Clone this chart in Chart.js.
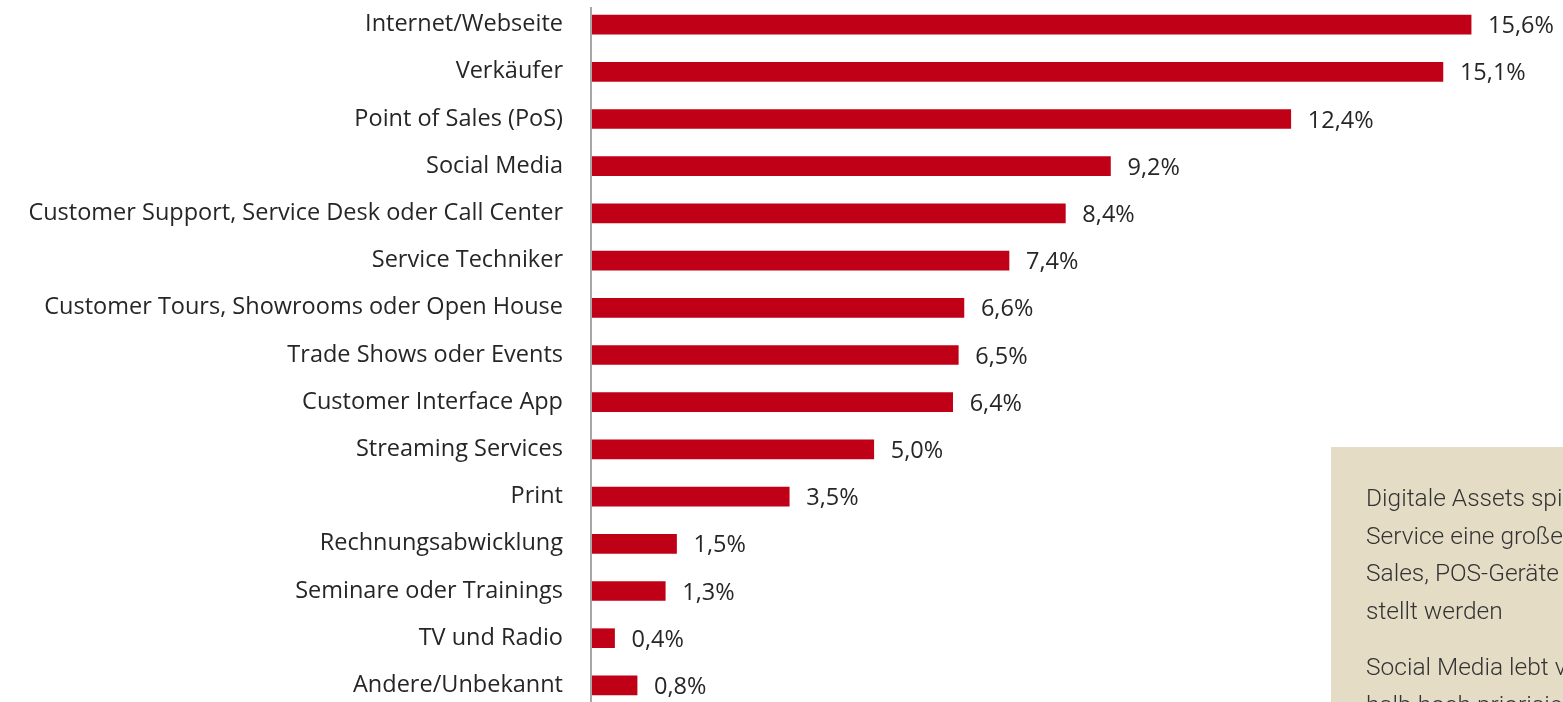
<!DOCTYPE html>
<html>
<head>
<meta charset="utf-8">
<script src="https://cdn.jsdelivr.net/npm/chart.js@4/dist/chart.umd.min.js"></script>
<style>
  html, body { margin: 0; padding: 0; background: #fff; overflow: hidden; width: 1563px; height: 702px; }
  #wrap { position: absolute; left: 0; top: 0; width: 1563px; height: 712px; }
  #note {
    position: absolute; left: 1331px; top: 447px; width: 420px; height: 300px;
    background: #e5dcc6; box-sizing: border-box; padding: 32px 0 0 35px;
    font-family: Roboto, sans-serif; font-weight: 300; font-size: 24.5px; line-height: 37.5px; color: #333;
    white-space: nowrap;
  }
  #note p { margin: 0 0 19px 0; }
</style>
</head>
<body>
<div id="wrap"><canvas id="bars"></canvas></div>
<div id="note">
  <p>Digitale Assets spielen für Sales und<br>Service eine große Rolle und müssen für<br>Sales, POS-Geräte und Service bereitge-<br>stellt werden</p>
  <p>Social Media lebt von Aktualität und ist des-<br>halb hoch priorisiert</p>
</div>
<script>
const categories = [
  "Internet/Webseite",
  "Verkäufer",
  "Point of Sales (PoS)",
  "Social Media",
  "Customer Support, Service Desk oder Call Center",
  "Service Techniker",
  "Customer Tours, Showrooms oder Open House",
  "Trade Shows oder Events",
  "Customer Interface App",
  "Streaming Services",
  "Print",
  "Rechnungsabwicklung",
  "Seminare oder Trainings",
  "TV und Radio",
  "Andere/Unbekannt"
];
const shares = [15.6, 15.1, 12.4, 9.2, 8.4, 7.4, 6.6, 6.5, 6.4, 5.0, 3.5, 1.5, 1.3, 0.4, 0.8];

const fmt = v => v.toFixed(1).replace(".", ",") + "%";

const valueLabels = {
  id: "valueLabels",
  afterDatasetsDraw(chart) {
    const ctx = chart.ctx;
    const meta = chart.getDatasetMeta(0);
    ctx.save();
    ctx.font = "23.5px 'Open Sans'";
    ctx.fillStyle = "#262626";
    ctx.textBaseline = "middle";
    ctx.textAlign = "left";
    meta.data.forEach((bar, i) => {
      ctx.fillText(fmt(shares[i]), bar.x + 17, bar.y + 2);
    });
    ctx.restore();
  }
};

// axis line starts a bit below the top, like the original
const axisLine = {
  id: "axisLine",
  afterDatasetsDraw(chart) {
    const ctx = chart.ctx;
    const area = chart.chartArea;
    ctx.save();
    ctx.strokeStyle = "#a6a6a6";
    ctx.lineWidth = 2;
    ctx.beginPath();
    ctx.moveTo(area.left - 1, 7);
    ctx.lineTo(area.left - 1, chart.height);
    ctx.stroke();
    ctx.restore();
  }
};

const canvas = document.getElementById("bars");
canvas.width = 1563;
canvas.height = 712;

new Chart(canvas, {
  type: "bar",
  data: {
    labels: categories,
    datasets: [{
      data: shares,
      backgroundColor: "#c00016",
      barThickness: 19
    }]
  },
  options: {
    indexAxis: "y",
    responsive: false,
    animation: false,
    layout: { padding: { top: 1, bottom: 3, left: 0, right: 13 } },
    plugins: { legend: { display: false }, tooltip: { enabled: false } },
    scales: {
      x: { display: false, min: 0, max: 17 },
      y: {
        grid: { display: false },
        border: { display: false },
        ticks: { color: "#262626", font: { family: "'Open Sans'", size: 23.5 }, padding: 21 },
        afterFit(scale) {
          scale.width = 592;
          scale.paddingTop = 0;
          scale.paddingBottom = 0;
        }
      }
    }
  },
  plugins: [valueLabels, axisLine]
});
</script>
</body>
</html>
